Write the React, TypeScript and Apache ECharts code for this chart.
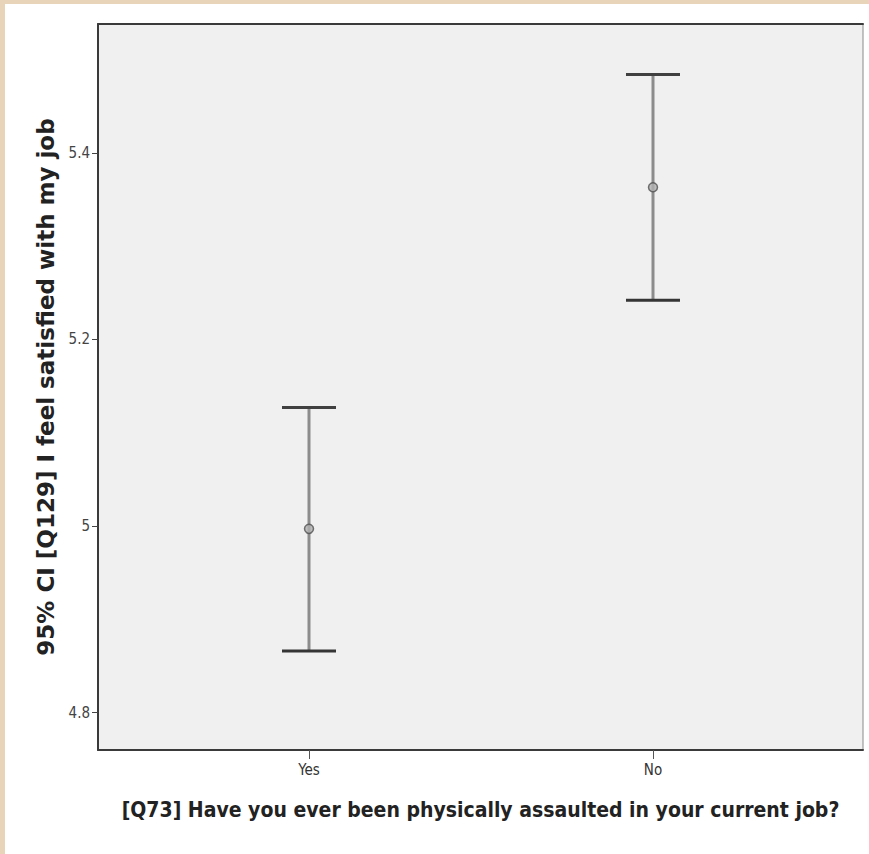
import React, { useEffect, useRef } from "react";
import * as echarts from "echarts";

const categories = ["Yes", "No"];
const lowerCI = [4.866, 5.242];
const upperCI = [5.127, 5.484];
const means = [4.997, 5.363];
const yTicks = [4.8, 5, 5.2, 5.4];
const xTitle = "[Q73] Have you ever been physically assaulted in your current job?";
const yTitle = "95% CI [Q129] I feel satisfied with my job";

export default function App() {
  const ref = useRef<HTMLDivElement>(null);
  useEffect(() => {
    document.body.style.margin = "0";
    const chart = echarts.init(ref.current!, undefined, { renderer: "svg" });
    const barData = categories.map((_, i) => [i, lowerCI[i], upperCI[i]]);
    const meanData = categories.map((_, i) => [i, means[i]]);
    chart.setOption({
      animation: false,
      backgroundColor: "#ffffff",
      grid: {
        left: 98,
        top: 24,
        right: 6,
        bottom: 104,
        show: true,
        backgroundColor: "#f0f0f0",
        borderColor: "#8a8a8a",
        borderWidth: 1,
      },
      xAxis: [
        {
          type: "value",
          min: -0.6134,
          max: 1.6105,
          splitLine: { show: false },
          axisLine: { show: true, onZero: false, lineStyle: { color: "#3a3a3a", width: 2 } },
          axisTick: {
            show: true,
            length: 9,
            customValues: [0, 1],
            lineStyle: { color: "#555", width: 1 },
          },
          axisLabel: {
            customValues: [0, 1],
            formatter: (v: number) => categories[Math.round(v)] ?? "",
            margin: 12,
            fontSize: 15,
            color: "#333",
            fontFamily: "DejaVu Sans Condensed",
          },
          name: xTitle,
          nameLocation: "middle",
          nameGap: 49,
          nameTextStyle: {
            fontSize: 21,
            fontWeight: "bold",
            color: "#222",
            fontFamily: "DejaVu Sans Condensed",
          },
        },
        {
          type: "value",
          position: "top",
          min: -0.6134,
          max: 1.6105,
          splitLine: { show: false },
          axisLine: { show: true, onZero: false, lineStyle: { color: "#3a3a3a", width: 2 } },
          axisTick: { show: false },
          axisLabel: { show: false },
        },
      ],
      yAxis: {
        type: "value",
        min: 4.76,
        max: 5.538,
        splitLine: { show: false },
        axisLine: { show: true, onZero: false, lineStyle: { color: "#3a3a3a", width: 2 } },
        axisTick: {
          show: true,
          length: 6,
          customValues: yTicks,
          lineStyle: { color: "#444", width: 1 },
        },
        axisLabel: {
          customValues: yTicks,
          margin: 8,
          fontSize: 15,
          color: "#444",
          fontFamily: "DejaVu Sans Condensed",
        },
        name: yTitle,
        nameLocation: "middle",
        nameGap: 38,
        nameTextStyle: {
          fontSize: 23,
          fontWeight: "bold",
          color: "#222",
          fontFamily: "DejaVu Sans",
        },
      },
      series: [
        {
          type: "custom",
          data: barData,
          encode: { x: 0, y: [1, 2] },
          renderItem: (params: any, api: any) => {
            const x = api.value(0);
            const lo = api.coord([x, api.value(1)]);
            const hi = api.coord([x, api.value(2)]);
            const half = 27;
            return {
              type: "group",
              children: [
                {
                  type: "line",
                  shape: { x1: lo[0], y1: lo[1], x2: hi[0], y2: hi[1] },
                  style: { stroke: "#8c8c8c", lineWidth: 3 },
                },
                {
                  type: "line",
                  shape: { x1: hi[0] - half, y1: hi[1], x2: hi[0] + half, y2: hi[1] },
                  style: { stroke: "#404040", lineWidth: 3 },
                },
                {
                  type: "line",
                  shape: { x1: lo[0] - half, y1: lo[1], x2: lo[0] + half, y2: lo[1] },
                  style: { stroke: "#353535", lineWidth: 3 },
                },
              ],
            };
          },
        },
        {
          type: "scatter",
          data: meanData,
          symbol: "circle",
          symbolSize: 9,
          itemStyle: { color: "#b0b0b0", borderColor: "#505050", borderWidth: 1.5 },
        },
      ],
      graphic: [
        { type: "rect", shape: { x: 0, y: 0, width: 869, height: 4 }, style: { fill: "#e8d5b9" } },
        { type: "rect", shape: { x: 0, y: 0, width: 5, height: 854 }, style: { fill: "#e8d5b9" } },
      ],
    });
    return () => chart.dispose();
  }, []);
  return <div ref={ref} style={{ width: 869, height: 854 }} />;
}
